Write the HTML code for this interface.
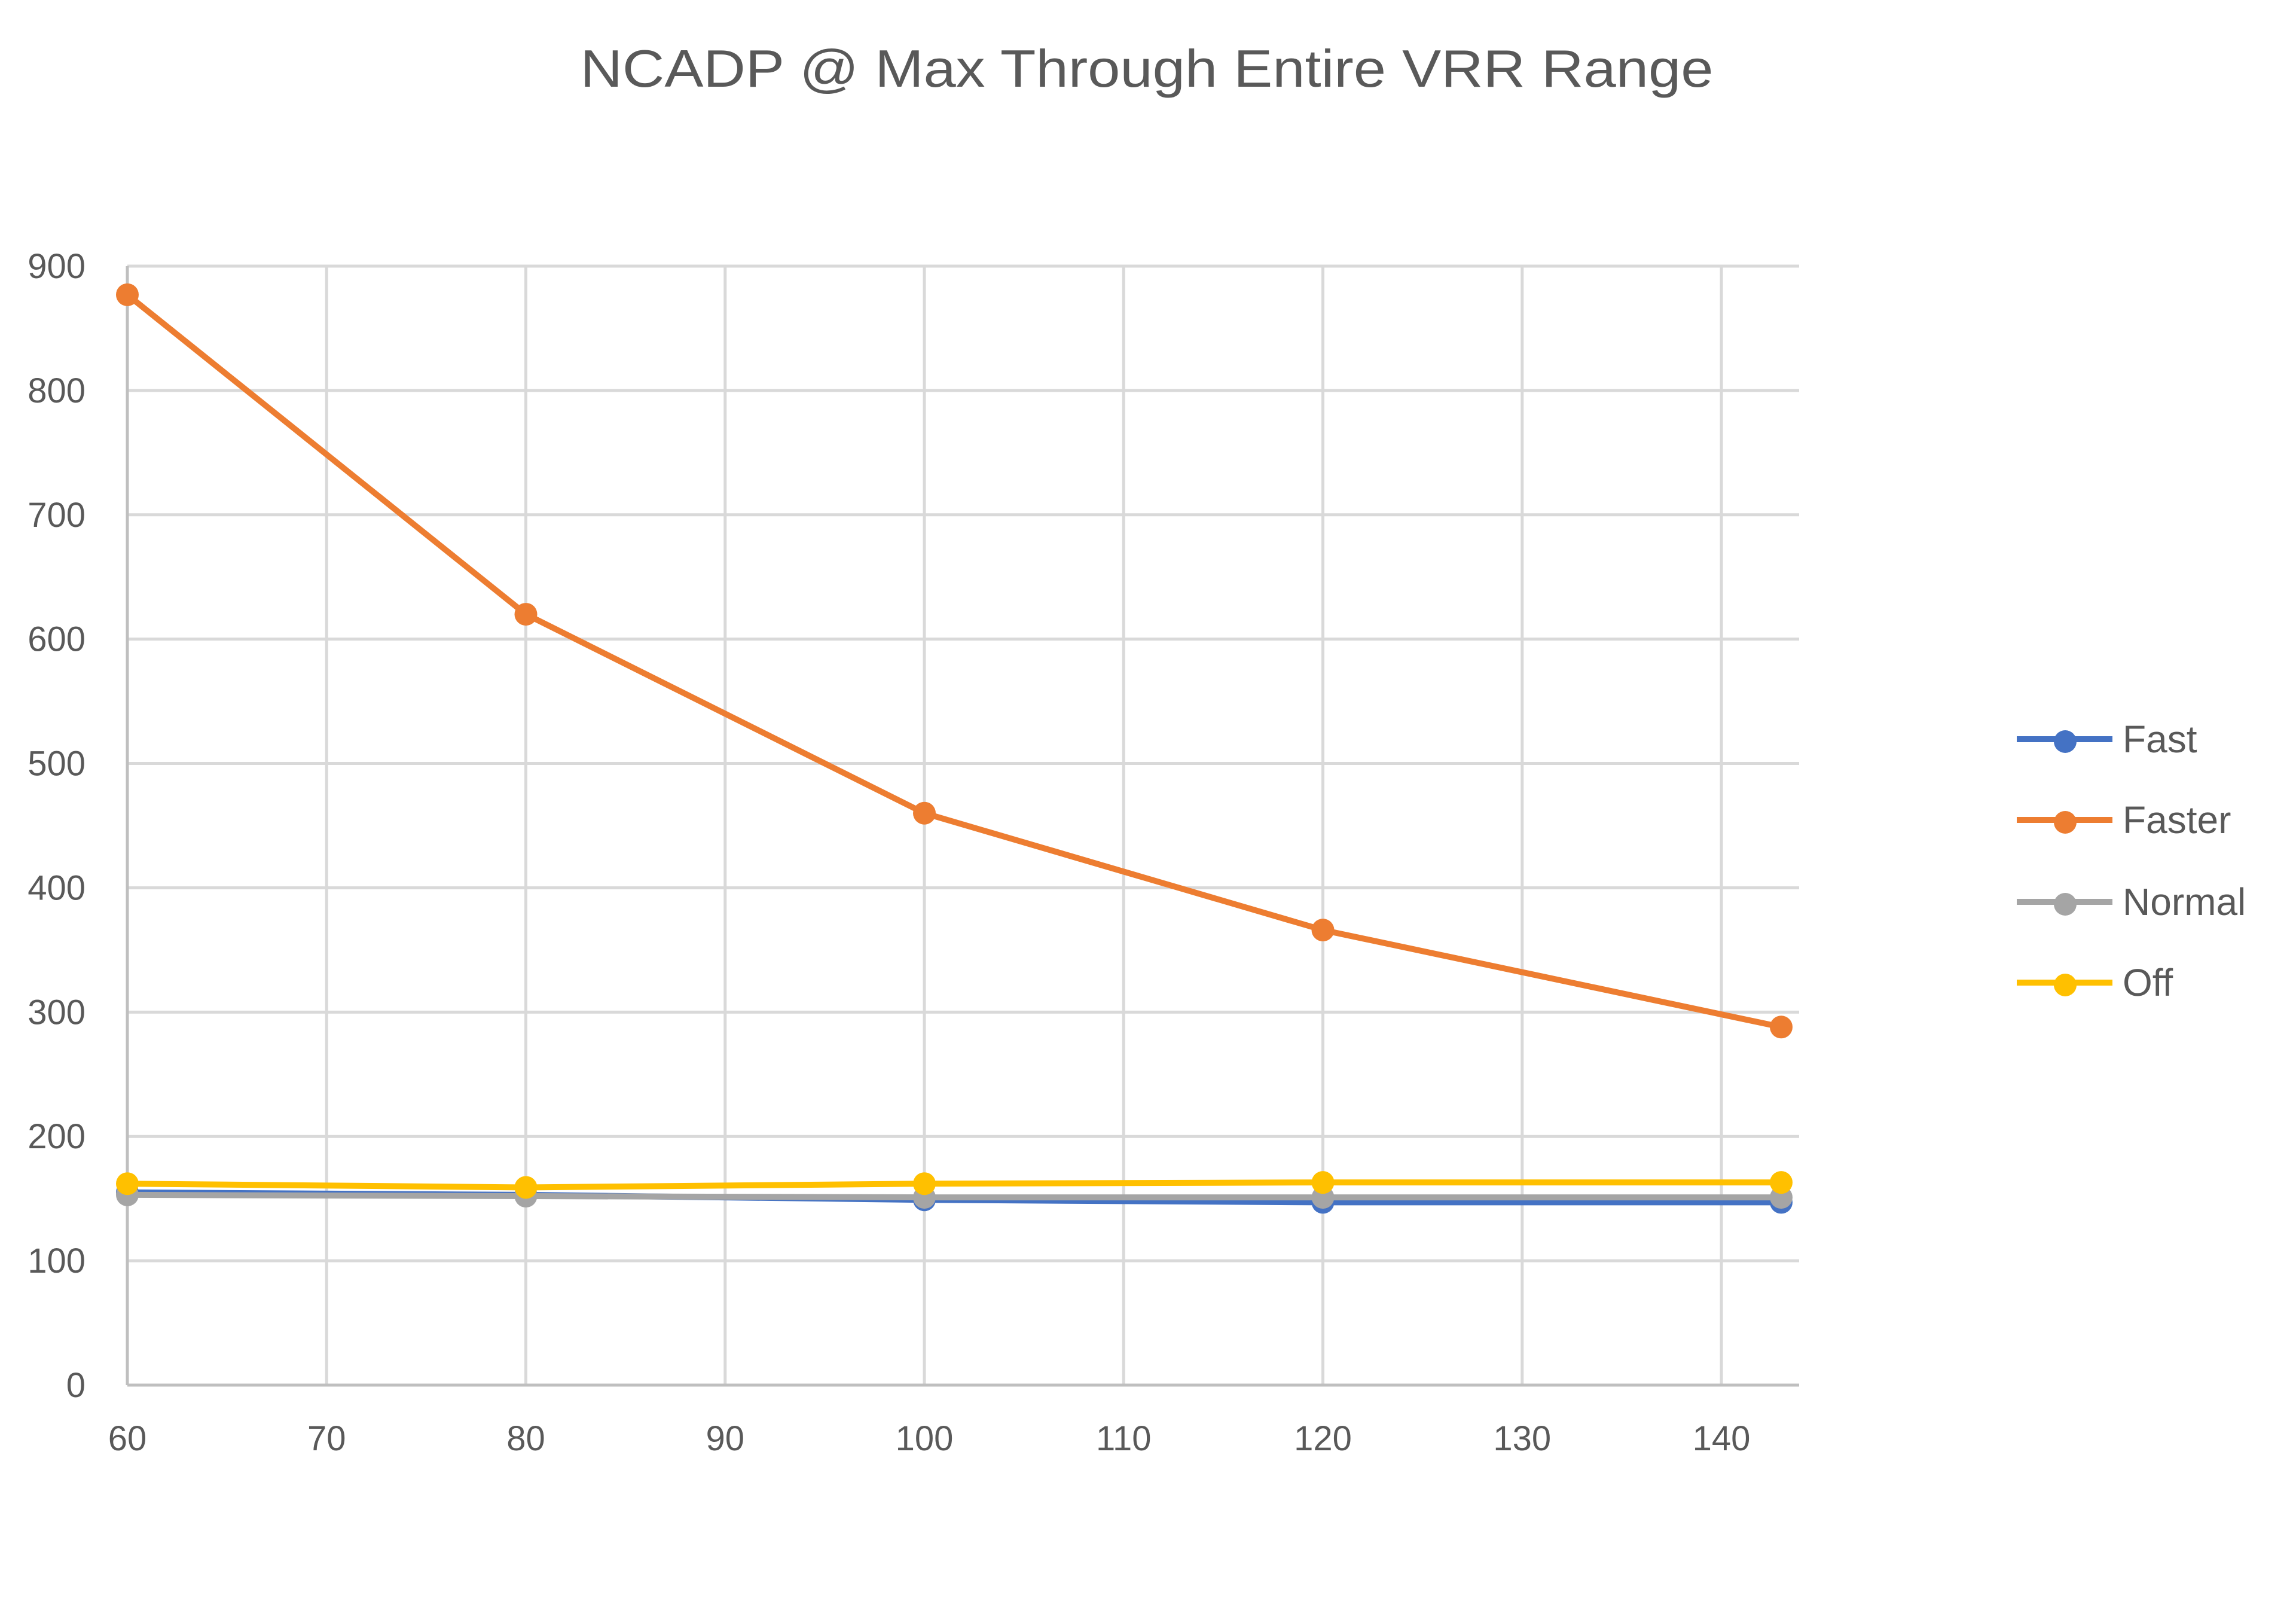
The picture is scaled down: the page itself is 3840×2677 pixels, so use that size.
<!DOCTYPE html>
<html><head><meta charset="utf-8"><style>
html,body{margin:0;padding:0;background:#fff;}
svg{display:block;font-family:"Liberation Sans",sans-serif;}
</style></head><body>
<svg id="chart" width="3840" height="2677" viewBox="0 0 3840 2677">
<text x="1918" y="145" text-anchor="middle" font-size="88" fill="#595959" textLength="1895" lengthAdjust="spacingAndGlyphs">NCADP @ Max Through Entire VRR Range</text>
<g id="grid"></g><g id="axes"></g><g id="series"></g><g id="legend"></g>
</svg>
<script>
const xValues = [60, 80, 100, 120, 143];
const fastValues = [155, 153, 149, 147, 147];
const fasterValues = [877, 620, 460, 366, 288];
const normalValues = [153, 152, 151, 151, 151];
const offValues = [162, 159, 162, 163, 163];
const seriesNames = ["Fast", "Faster", "Normal", "Off"];
const xTicks = [60, 70, 80, 90, 100, 110, 120, 130, 140];
const yTicks = [0, 100, 200, 300, 400, 500, 600, 700, 800, 900];

const NS = "http://www.w3.org/2000/svg";
const L = 213, R = 3009, T = 445, B = 2316;
const xMin = 60, xMax = 143.9, yMin = 0, yMax = 900;
function xs(v){ return L + (v - xMin) / (xMax - xMin) * (R - L); }
function ys(v){ return B - (v - yMin) / (yMax - yMin) * (B - T); }
function mk(tag, attrs, parent){ const e = document.createElementNS(NS, tag); for (const k in attrs) e.setAttribute(k, attrs[k]); parent.appendChild(e); return e; }

const grid = document.getElementById("grid");
const axes = document.getElementById("axes");
yTicks.forEach(t => {
  const ln = mk("line", {x1: L, x2: R, y1: ys(t), y2: ys(t), stroke: "#d9d9d9", "stroke-width": 5}, grid);
  
  
  const tx = mk("text", {x: 143, y: ys(t) + 20, "text-anchor": "end", "font-size": 58, fill: "#595959"}, axes);
  tx.textContent = t;
  
  
});
xTicks.forEach(t => {
  const ln = mk("line", {x1: xs(t), x2: xs(t), y1: T, y2: B, stroke: "#d9d9d9", "stroke-width": 5}, grid);
  
  
  const tx = mk("text", {x: xs(t), y: 2425, "text-anchor": "middle", "font-size": 58, fill: "#595959"}, axes);
  tx.textContent = t;
  
  
});
const ax = mk("line", {x1: L, x2: R, y1: B, y2: B, stroke: "#bfbfbf", "stroke-width": 5}, axes);


const ay = mk("line", {x1: L, x2: L, y1: T, y2: B, stroke: "#bfbfbf", "stroke-width": 5}, axes);



const colors = ["#4472c4", "#ed7d31", "#a5a5a5", "#ffc000"];
const data = [fastValues, fasterValues, normalValues, offValues];
const drawOrder = [0, 2, 3, 1];
const sg = document.getElementById("series");
drawOrder.forEach(i => {
  const vals = data[i];
  const g = mk("g", {}, sg);
  
  
  const pts = vals.map((v, j) => xs(xValues[j]) + "," + ys(v)).join(" ");
  const pl = mk("polyline", {points: pts, fill: "none", stroke: colors[i], "stroke-width": 10, "stroke-linejoin": "round"}, g);
  
  
  vals.forEach((v, j) => {
    const c = mk("circle", {cx: xs(xValues[j]), cy: ys(v), r: 19, fill: colors[i]}, g);
    
    
  });
});

const lg = document.getElementById("legend");
const legY = [1236, 1371, 1508, 1643];
seriesNames.forEach((n, i) => {
  const g = mk("g", {}, lg);
  
  
  mk("line", {x1: 3373, x2: 3533, y1: legY[i], y2: legY[i], stroke: colors[i], "stroke-width": 10}, g);
  mk("circle", {cx: 3454, cy: legY[i] + 4, r: 19, fill: colors[i]}, g);
  const t = mk("text", {x: 3550, y: legY[i] + 22, "font-size": 64, fill: "#595959"}, g);
  t.textContent = n;
});
</script>
</body></html>
